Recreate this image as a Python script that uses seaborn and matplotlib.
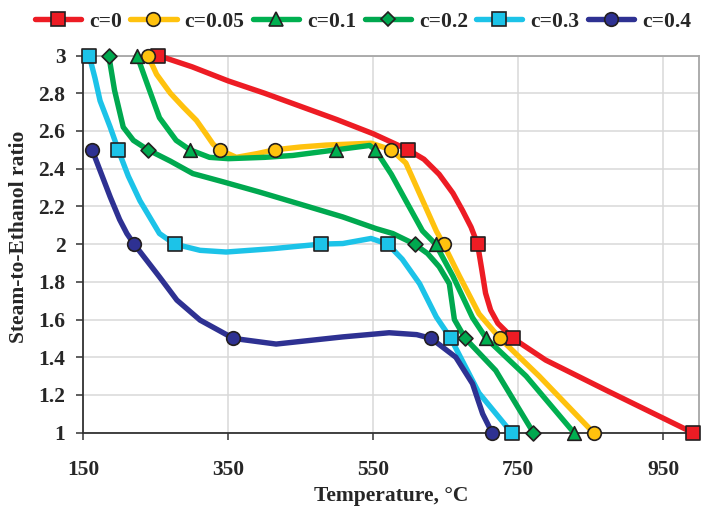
import matplotlib
matplotlib.use("Agg")
import matplotlib.pyplot as plt
from matplotlib.lines import Line2D
import seaborn as sns
import pandas as pd

sns.set_style("white")
plt.rcParams['font.family'] = ['Liberation Serif', 'DejaVu Serif']
plt.rcParams['font.weight'] = 'bold'

# ---------------- data ----------------
series_names = ["c=0", "c=0.05", "c=0.1", "c=0.2", "c=0.3", "c=0.4"]

# curve traces (temperature, ratio)
c0_T = [253, 300, 350, 400, 450, 500, 550, 598, 620, 641, 660, 673, 685, 694, 700, 705, 712, 722, 743, 788, 871, 991]
c0_v = [3.0, 2.94, 2.865, 2.80, 2.73, 2.66, 2.585, 2.5, 2.45, 2.37, 2.27, 2.18, 2.09, 2.0, 1.86, 1.74, 1.65, 1.58, 1.5, 1.385, 1.226, 1.0]

c005_T = [239, 251, 270, 288, 306, 320, 329, 338, 361, 390, 414, 450, 485, 547, 575, 595, 616, 637, 647, 669, 696, 725, 779, 854]
c005_v = [3.0, 2.90, 2.80, 2.726, 2.656, 2.58, 2.53, 2.5, 2.46, 2.48, 2.5, 2.515, 2.525, 2.535, 2.5, 2.43, 2.25, 2.07, 2.0, 1.83, 1.63, 1.5, 1.30, 1.0]

c01_T = [224, 238, 255, 278, 297, 324, 350, 400, 439, 499, 545, 553, 575, 595, 618, 636, 660, 687, 706, 761, 827]
c01_v = [3.0, 2.85, 2.67, 2.55, 2.5, 2.46, 2.453, 2.46, 2.47, 2.5, 2.523, 2.5, 2.37, 2.23, 2.07, 2.0, 1.83, 1.61, 1.5, 1.30, 1.0]

c02_T = [185, 193, 205, 219, 239, 270, 301, 343, 393, 462, 508, 554, 577, 607, 625, 641, 655, 662, 677, 719, 771]
c02_v = [3.0, 2.815, 2.62, 2.55, 2.5, 2.44, 2.374, 2.33, 2.276, 2.197, 2.144, 2.082, 2.056, 2.0, 1.95, 1.88, 1.79, 1.60, 1.5, 1.33, 1.0]

c03_T = [158, 166, 173, 187, 198, 212, 228, 255, 276, 311, 347, 412, 478, 508, 547, 570, 590, 614, 637, 657, 696, 741]
c03_v = [3.0, 2.88, 2.76, 2.62, 2.5, 2.36, 2.23, 2.056, 2.0, 1.967, 1.958, 1.976, 2.0, 2.003, 2.03, 2.0, 1.92, 1.79, 1.614, 1.5, 1.21, 1.0]

c04_T = [162, 175, 187, 200, 210, 220, 255, 279, 311, 357, 416, 508, 572, 610, 630, 664, 687, 701, 714]
c04_v = [2.5, 2.37, 2.25, 2.13, 2.056, 2.0, 1.826, 1.703, 1.597, 1.5, 1.47, 1.508, 1.53, 1.52, 1.5, 1.40, 1.26, 1.10, 1.0]

# marker points
m0_T = [253, 598, 694, 743, 991]
m0_v = [3.0, 2.5, 2.0, 1.5, 1.0]
m005_T = [239, 338, 414, 575, 647, 725, 854]
m005_v = [3.0, 2.5, 2.5, 2.5, 2.0, 1.5, 1.0]
m01_T = [224, 297, 499, 553, 636, 706, 827]
m01_v = [3.0, 2.5, 2.5, 2.5, 2.0, 1.5, 1.0]
m02_T = [185, 239, 607, 677, 771]
m02_v = [3.0, 2.5, 2.0, 1.5, 1.0]
m03_T = [158, 198, 276, 478, 570, 657, 741]
m03_v = [3.0, 2.5, 2.0, 2.0, 2.0, 1.5, 1.0]
m04_T = [162, 220, 357, 630, 714]
m04_v = [2.5, 2.0, 1.5, 1.5, 1.0]

x_ticks = [150, 350, 550, 750, 950]
y_ticks = [1, 1.2, 1.4, 1.6, 1.8, 2, 2.2, 2.4, 2.6, 2.8, 3]
y_tick_labels = ["1", "1.2", "1.4", "1.6", "1.8", "2", "2.2", "2.4", "2.6", "2.8", "3"]

# ---------------- styles ----------------
colors = ["#ED1C24", "#FFC20E", "#00B050", "#00A84F", "#1CC3E8", "#2E3192"]
markers = ["s", "o", "^", "D", "s", "o"]
msizes = [10.0, 9.8, 9.8, 7.6, 10.0, 9.8]
edge = "#231F20"

curves = [(c0_T, c0_v), (c005_T, c005_v), (c01_T, c01_v), (c02_T, c02_v), (c03_T, c03_v), (c04_T, c04_v)]
marks = [(m0_T, m0_v), (m005_T, m005_v), (m01_T, m01_v), (m02_T, m02_v), (m03_T, m03_v), (m04_T, m04_v)]

FS = 15.5
fig = plt.figure(figsize=(7.01, 5.12), dpi=100)
ax = fig.add_axes([83.4 / 701, 1 - 432.7 / 512, (699.3 - 83.4) / 701, (432.7 - 55.5) / 512])

for i, (name, (T, v)) in enumerate(zip(series_names, curves)):
    df = pd.DataFrame({"T": T, "v": v})
    sns.lineplot(data=df, x="T", y="v", ax=ax, color=colors[i], lw=3.9,
                 sort=False, estimator=None, legend=False, zorder=3 + i * 0.1)
for ln in ax.lines:
    ln.set_solid_joinstyle("round")
    ln.set_solid_capstyle("round")
    ln.set_clip_on(False)

for i, (T, v) in enumerate(marks):
    df = pd.DataFrame({"T": T, "v": v})
    sns.scatterplot(data=df, x="T", y="v", ax=ax, color=colors[i], marker=markers[i],
                    s=msizes[i] ** 2, edgecolor=edge, linewidth=1.2, legend=False,
                    zorder=5 + i * 0.1)
for coll in ax.collections:
    coll.set_clip_on(False)

ax.set_xlim(150, 1000)
ax.set_ylim(1, 3)
ax.set_xticks(x_ticks)
ax.set_yticks(y_ticks)
ax.set_yticklabels(y_tick_labels)
ax.grid(True, color="#D9D9D9", lw=1.1)
ax.set_axisbelow(True)
for s in ["left", "bottom"]:
    ax.spines[s].set_color("#333333")
    ax.spines[s].set_linewidth(1.3)
for s in ["top", "right"]:
    ax.spines[s].set_color("#A6A6A6")
    ax.spines[s].set_linewidth(1.3)
ax.tick_params(axis="y", direction="out", length=5, width=1.1, color="#333333",
               pad=8, labelsize=FS, left=True)
ax.tick_params(axis="x", direction="out", length=5, width=1.1, color="#333333",
               pad=15, labelsize=FS, bottom=True)
for lab in ax.get_xticklabels() + ax.get_yticklabels():
    lab.set_fontweight("bold")

ax.set_xlabel("Temperature, °C", fontsize=FS, fontweight="bold", labelpad=4)
ax.set_ylabel("Steam-to-Ethanol ratio", fontsize=FS, fontweight="bold")
ax.yaxis.set_label_coords(-(83.4 - 29) / (699.3 - 83.4), (432.7 - 237) / (432.7 - 55.5))

handles = [Line2D([0], [0], color=colors[i], lw=3.9, marker=markers[i], markersize=msizes[i],
                  markerfacecolor=colors[i], markeredgecolor=edge, markeredgewidth=1.2)
           for i in range(6)]
fig.legend(handles, series_names, loc="center", bbox_to_anchor=(363 / 701, 1 - 21.7 / 512),
           ncol=6, frameon=False, handlelength=2.15, handletextpad=0.38,
           columnspacing=0.38, borderpad=0, prop={"weight": "bold", "size": FS})

fig.savefig("out.png", dpi=100)
